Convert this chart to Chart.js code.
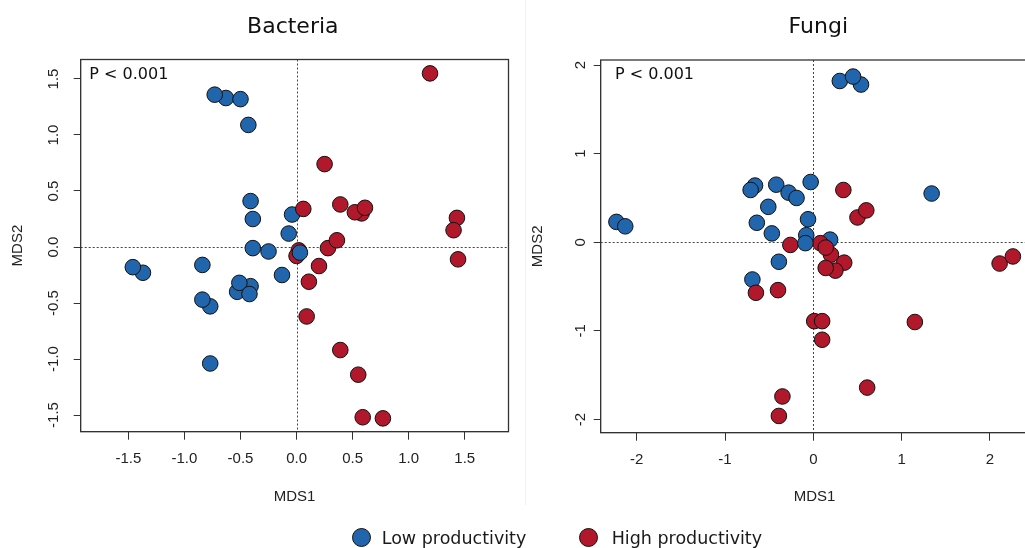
<!DOCTYPE html>
<html><head><meta charset="utf-8">
<script src="https://cdn.jsdelivr.net/npm/chart.js@4/dist/chart.umd.min.js"></script>
<style>
html,body{margin:0;padding:0;background:#fff;width:1025px;height:548px;overflow:hidden;position:relative;}
canvas{position:absolute;top:0;}
#c1{left:0;} #c2{left:520px;}
.sep{position:absolute;left:525px;top:0;width:1px;height:505px;background:#f2f2f2;}
.dot{position:absolute;width:19px;height:19px;border-radius:50%;border:1px solid #111;box-sizing:border-box;}
.lt{position:absolute;font-family:"DejaVu Sans";font-size:17.5px;line-height:20px;color:#1a1a1a;white-space:nowrap;}
</style></head>
<body>
<div class="sep"></div>
<canvas id="c1" width="520" height="548"></canvas>
<canvas id="c2" width="520" height="548"></canvas>
<div class="dot" style="left:351.5px;top:527.8px;background:#2166AC"></div>
<div class="lt" style="left:381.7px;top:528px">Low productivity</div>
<div class="dot" style="left:578.8px;top:527.8px;background:#B2182B"></div>
<div class="lt" style="left:611.7px;top:528px">High productivity</div>
<script>
// ---- data ----
const bactLowX  = [-0.63,-0.73,-0.50,-0.43,-0.41,-0.39,-0.39,-0.25,-0.04,-0.07,0.03,-0.13,-1.37,-1.46,-0.84,-0.41,-0.53,-0.51,-0.42,-0.77,-0.84,-0.77];
const bactLowY  = [1.33,1.36,1.32,1.09,0.41,0.25,-0.01,-0.04,0.29,0.12,-0.05,-0.25,-0.23,-0.18,-0.16,-0.35,-0.40,-0.32,-0.42,-0.53,-0.47,-1.04];
const bactLowOnTop = [10];
const bactHighX = [1.19,0.25,0.06,0.39,0.58,0.52,0.61,1.43,1.40,1.44,0.28,0.36,0.02,0.00,0.20,0.11,0.09,0.39,0.55,0.59,0.77];
const bactHighY = [1.55,0.74,0.34,0.38,0.30,0.31,0.35,0.26,0.15,-0.11,-0.01,0.06,-0.03,-0.08,-0.17,-0.31,-0.62,-0.92,-1.14,-1.52,-1.53];

const fungiLowX  = [0.30,0.54,0.45,-0.03,1.34,-0.66,-0.71,-0.42,-0.28,-0.19,-0.51,-0.06,-2.23,-2.13,-0.64,-0.47,-0.08,0.19,-0.09,-0.39,-0.69];
const fungiLowY  = [1.82,1.78,1.87,0.68,0.55,0.64,0.59,0.65,0.56,0.50,0.40,0.26,0.23,0.18,0.22,0.10,0.08,0.03,-0.01,-0.22,-0.42];
const fungiLowOnTop = [16,18];
const fungiHighX = [0.34,0.50,0.60,-0.26,0.08,0.20,0.14,0.35,0.25,0.14,2.11,2.26,-0.65,-0.40,0.01,0.10,0.10,1.15,-0.35,-0.39,0.61];
const fungiHighY = [0.59,0.28,0.36,-0.03,-0.01,-0.14,-0.06,-0.23,-0.32,-0.29,-0.24,-0.16,-0.57,-0.54,-0.89,-0.89,-1.10,-0.90,-1.74,-1.96,-1.64];

const bactTicks = [-1.5,-1.0,-0.5,0.0,0.5,1.0,1.5];
const bactTickLabels = ['-1.5','-1.0','-0.5','0.0','0.5','1.0','1.5'];
const fungiTicks = [-2,-1,0,1,2];
const fungiTickLabels = ['-2','-1','0','1','2'];

const seriesNames = ['Low productivity','High productivity'];
const COL_LOW = '#2166AC', COL_HIGH = '#B2182B';

// ---- helpers ----
function pts(xs, ys, keep){ return xs.map((x,i)=>({x:x,y:ys[i],i:i})).filter(p=>keep(p.i)).map(p=>({x:p.x,y:p.y})); }

const panelPlugin = {
  id:'panel',
  beforeDatasetsDraw(chart, args, o){
    const {ctx, chartArea:a, scales:{x,y}} = chart;
    ctx.save();
    ctx.strokeStyle='#444'; ctx.lineWidth=1; ctx.setLineDash([2,2]);
    const x0 = Math.round(x.getPixelForValue(0))+0.5;
    const y0 = Math.round(y.getPixelForValue(0))+0.5;
    ctx.beginPath();
    ctx.moveTo(x0,a.top); ctx.lineTo(x0,a.bottom);
    ctx.moveTo(a.left,y0); ctx.lineTo(a.right,y0);
    ctx.stroke();
    ctx.restore();
  },
  afterDraw(chart, args, o){
    const {ctx, chartArea:a} = chart;
    ctx.save();
    ctx.strokeStyle='#333'; ctx.lineWidth=1.3;
    ctx.strokeRect(a.left,a.top,a.right-a.left,a.bottom-a.top);
    ctx.fillStyle='#111';
    ctx.font='22px "DejaVu Sans"'; ctx.textAlign='center'; ctx.textBaseline='alphabetic';
    ctx.fillText(o.title,(a.left+a.right)/2+o.titleDx,32.7);
    ctx.font='16px "DejaVu Sans"'; ctx.textAlign='left';
    ctx.fillText(o.note,a.left+o.noteDx,79.3);
    ctx.restore();
  }
};

function makeChart(id, cfg){
  const tickFont = {family:'"Liberation Sans", Arial, sans-serif', size:15};
  const ds = (label, data, color) => ({label, data, backgroundColor:color, borderColor:'#111', borderWidth:1,
      pointRadius:7.8, pointHoverRadius:7.8, pointBorderWidth:1});
  return new Chart(document.getElementById(id), {
    type:'scatter',
    data:{ datasets:[
      ds(seriesNames[0], pts(cfg.lx, cfg.ly, i=>cfg.top.includes(i)), COL_LOW),
      ds(seriesNames[1], pts(cfg.hx, cfg.hy, ()=>true), COL_HIGH),
      ds(seriesNames[0], pts(cfg.lx, cfg.ly, i=>!cfg.top.includes(i)), COL_LOW)
    ]},
    options:{
      responsive:false, animation:false, devicePixelRatio:1,
      layout:{padding:{top:cfg.top0, right:11.5, left:0, bottom:0}},
      plugins:{legend:{display:false}, tooltip:{enabled:false},
        panel:{title:cfg.title, titleDx:cfg.titleDx, note:'P < 0.001', noteDx:cfg.noteDx}},
      scales:{
        x:{type:'linear', min:cfg.xr[0], max:cfg.xr[1],
          afterBuildTicks:s=>{ s.ticks = cfg.ticksX.map(v=>({value:v})); },
          afterFit:s=>{ s.height = 548-cfg.bottom0; },
          grid:{drawOnChartArea:false, drawTicks:true, tickLength:8, color:'#333'},
          border:{display:true, color:'#333'},
          ticks:{font:tickFont, color:'#222', padding:10, maxRotation:0, minRotation:0, autoSkip:false,
            callback:(v,i)=>cfg.labelsX[i]},
          title:{display:true, text:'MDS1', font:tickFont, color:'#222', padding:{top:0,bottom:42}}
        },
        y:{type:'linear', min:cfg.yr[0], max:cfg.yr[1],
          afterBuildTicks:s=>{ s.ticks = cfg.ticksY.map(v=>({value:v})); },
          afterFit:s=>{ s.width = 80.7; },
          grid:{drawOnChartArea:false, drawTicks:true, tickLength:7, color:'#333'},
          border:{display:true, color:'#333'},
          ticks:{font:tickFont, color:'#222', padding:6.5, minRotation:90, maxRotation:90, crossAlign:'center', autoSkip:false,
            callback:(v,i)=>cfg.labelsY[i]},
          title:{display:true, text:'MDS2', font:tickFont, color:'#222', padding:{top:9.3,bottom:0}}
        }
      }
    },
    plugins:[panelPlugin]
  });
}

makeChart('c1', {title:'Bacteria', titleDx:-1.8, noteDx:8.6, top0:59.5, bottom0:431.7,
  xr:[-1.925,1.89], yr:[-1.649,1.674],
  lx:bactLowX, ly:bactLowY, top:bactLowOnTop, hx:bactHighX, hy:bactHighY,
  ticksX:bactTicks, labelsX:bactTickLabels, ticksY:bactTicks, labelsY:bactTickLabels});
makeChart('c2', {title:'Fungi', titleDx:3.7, noteDx:14.3, top0:60, bottom0:432.7,
  xr:[-2.408,2.437], yr:[-2.149,2.057],
  lx:fungiLowX, ly:fungiLowY, top:fungiLowOnTop, hx:fungiHighX, hy:fungiHighY,
  ticksX:fungiTicks, labelsX:fungiTickLabels, ticksY:fungiTicks, labelsY:fungiTickLabels});
</script>
</body></html>
